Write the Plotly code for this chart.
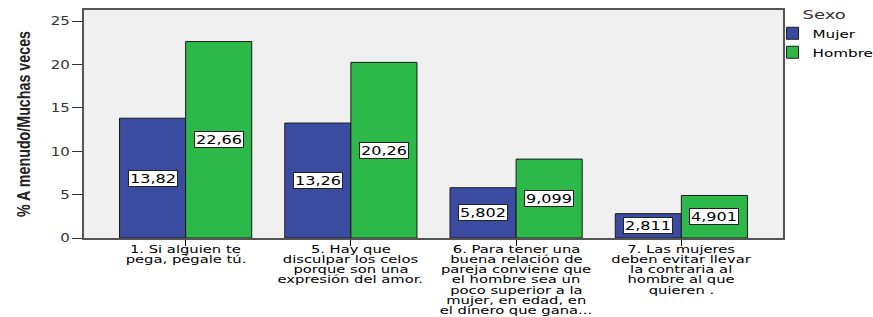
import plotly.graph_objects as go

categories = [
    "1. Si alguien te<br>pega, pégale tú.",
    "5. Hay que<br>disculpar los celos<br>porque son una<br>expresión del amor.",
    "6. Para tener una<br>buena relación de<br>pareja conviene que<br>el hombre sea un<br>poco superior a la<br>mujer, en edad, en<br>el dinero que gana...",
    "7. Las mujeres<br>deben evitar llevar<br>la contraria al<br>hombre al que<br>quieren .",
]
mujer = [13.82, 13.26, 5.802, 2.811]
hombre = [22.66, 20.26, 9.099, 4.901]
mujer_labels = ["13,82", "13,26", "5,802", "2,811"]
hombre_labels = ["22,66", "20,26", "9,099", "4,901"]
y_ticks = [0, 5, 10, 15, 20, 25]

BLUE = "#3B4BA0"
GREEN = "#2DB84A"
FONT = "DejaVu Sans"

x = list(range(len(categories)))

fig = go.Figure()
fig.add_trace(go.Bar(name="Mujer", x=x, y=mujer, marker=dict(color=BLUE, line=dict(color="#1a1a1a", width=1)),
                     offsetgroup="m"))
fig.add_trace(go.Bar(name="Hombre", x=x, y=hombre, marker=dict(color=GREEN, line=dict(color="#1a1a1a", width=1)),
                     offsetgroup="h"))

annotations = []
# value labels at mid-height of each bar
for i in x:
    for vals, labs, off in ((mujer, mujer_labels, -0.2), (hombre, hombre_labels, 0.2)):
        annotations.append(dict(x=i + off, y=vals[i] / 2, xref="x", yref="y", text=labs[i], showarrow=False,
                                font=dict(family=FONT, size=12, color="black"), bgcolor="white",
                                bordercolor="#222", borderwidth=1, borderpad=0, width=48, height=15))
# category labels, line by line for tight spacing
for i, cat in enumerate(categories):
    for j, line in enumerate(cat.split("<br>")):
        annotations.append(dict(x=i, y=0, xref="x", yref="y", text=line, showarrow=False,
                                yanchor="middle", yshift=-(11 + j * 10.3),
                                font=dict(family=FONT, size=11, color="black")))

fig.update_layout(
    width=873, height=317,
    margin=dict(l=84, r=90, t=10, b=79, autoexpand=False),
    paper_bgcolor="white", plot_bgcolor="#F0F0F0",
    barmode="group", bargap=0.2, bargroupgap=0,
    font=dict(family=FONT, size=12, color="#222"),
    annotations=annotations,
    legend=dict(x=0.985, y=1.03, xanchor="left", yanchor="top",
                title=dict(text="Sexo", side="top center", font=dict(family=FONT, size=12, color="#333")),
                font=dict(family=FONT, size=11, color="black"),
                itemwidth=30, tracegroupgap=0, bgcolor="rgba(0,0,0,0)"),
    xaxis=dict(range=[-0.615, 3.615], tickvals=x, ticktext=["" for _ in x], showticklabels=False,
               ticks="outside", ticklen=6, tickcolor="black", automargin=False,
               showline=True, linecolor="#555", linewidth=1.5, mirror=True, showgrid=False, zeroline=False),
    yaxis=dict(range=[0, 26.3], tickvals=y_ticks, ticks="outside", ticklen=10, tickcolor="#333",
               tickfont=dict(family=FONT, size=12, color="#333"), automargin=False,
               showline=True, linecolor="#555", linewidth=1.5, mirror=True, showgrid=False, zeroline=False,
               title=dict(text="<b>% A menudo/Muchas veces</b>", standoff=19,
                          font=dict(family="Liberation Sans, Arial", size=18, color="#222"))),
)

# The reference image is horizontally stretched: widen glyphs of horizontal texts
# and condense the rotated axis title accordingly.
post = """
(function(){
  var gd = document.getElementById('{plot_id}');
  function stretch(sel, k){
    gd.querySelectorAll(sel).forEach(function(t){
      if (t.getAttribute('data-st')) return;
      var L = t.getComputedTextLength();
      if (L > 0){
        t.setAttribute('textLength', (L*k).toFixed(1));
        t.setAttribute('lengthAdjust', 'spacingAndGlyphs');
        t.setAttribute('data-st', '1');
      }
    });
  }
  stretch('.annotation-text', 1.34);
  stretch('.ytick text', 1.25);
  stretch('.legendtext', 1.38);
  stretch('.legendtitletext', 1.5);
  gd.querySelectorAll('.legend .scrollbox, .legend').forEach(function(e){ e.removeAttribute('clip-path'); });
  gd.querySelectorAll('.ytitle').forEach(function(t){
    var L = t.getComputedTextLength();
    if (L > 0){ t.setAttribute('textLength', Math.min(L, 186)); t.setAttribute('lengthAdjust', 'spacingAndGlyphs'); }
  });
  document.body.style.margin = '0';
})();
"""

fig.write_html("out.html", config={"displayModeBar": False}, post_script=post)
